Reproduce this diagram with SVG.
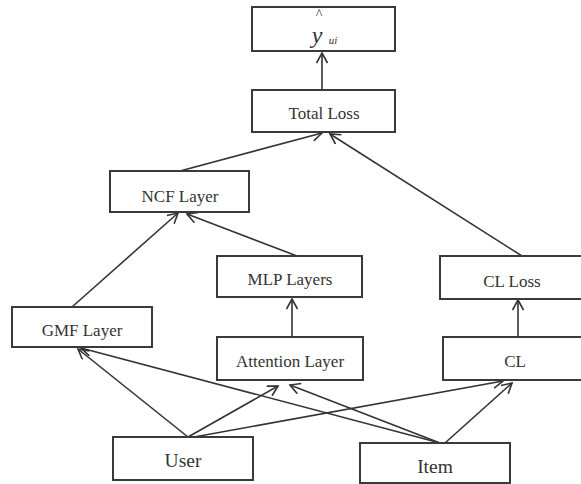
<svg xmlns="http://www.w3.org/2000/svg" width="581" height="484" viewBox="0 0 581 484">
  <defs>
    <marker id="arrow" markerUnits="userSpaceOnUse" markerWidth="14" markerHeight="14" refX="11" refY="6" orient="auto">
      <path d="M1,0.5 L11,6 L1,11.5" fill="none" stroke="#333" stroke-width="1.6"/>
    </marker>
  </defs>
  <style>
    .box { fill: #fff; stroke: #3a3a3a; stroke-width: 2; }
    .lbl { font-family: "Liberation Serif", "Times New Roman", serif; font-size: 17px; fill: #333; text-anchor: middle; }
    .big { font-size: 19.5px; }
    .edge { stroke: #333; stroke-width: 1.6; fill: none; marker-end: url(#arrow); }
  </style>
  <rect width="581" height="484" fill="#fff"/>

  <g id="connectors">
    <line class="edge" x1="322" y1="90" x2="322" y2="53"/>
    <line class="edge" x1="180" y1="171" x2="322" y2="133"/>
    <line class="edge" x1="522" y1="256" x2="330" y2="134"/>
    <line class="edge" x1="72" y1="307" x2="178" y2="213"/>
    <line class="edge" x1="297" y1="256" x2="187" y2="214"/>
    <line class="edge" x1="292" y1="337" x2="292" y2="299"/>
    <line class="edge" x1="518" y1="337" x2="518" y2="300"/>
    <line class="edge" x1="188" y1="437" x2="78" y2="349"/>
    <line class="edge" x1="188" y1="437" x2="278" y2="386"/>
    <line class="edge" x1="194" y1="437" x2="503" y2="381"/>
    <line class="edge" x1="440" y1="443" x2="81" y2="348"/>
    <line class="edge" x1="440" y1="443" x2="290" y2="385"/>
    <line class="edge" x1="445" y1="443" x2="512" y2="383"/>
  </g>

  <g id="y-hat">
    <rect class="box" x="252" y="7" width="143" height="44"/>
    <text class="lbl" x="319" y="18.5" style="font-size:14px">^</text>
    <text class="lbl" x="317" y="43" style="font-size:24px;font-style:italic">y</text>
    <text class="lbl" x="333" y="44" style="font-size:11px;font-style:italic">ui</text>
  </g>
  <g id="total-loss">
    <rect class="box" x="252" y="90" width="143" height="42"/>
    <text class="lbl" x="324" y="119">Total Loss</text>
  </g>
  <g id="ncf-layer">
    <rect class="box" x="110" y="171" width="139" height="41"/>
    <text class="lbl" x="180" y="202">NCF Layer</text>
  </g>
  <g id="mlp-layers">
    <rect class="box" x="217" y="256" width="145" height="41"/>
    <text class="lbl" x="290" y="285">MLP Layers</text>
  </g>
  <g id="cl-loss">
    <rect class="box" x="440" y="256" width="146" height="43"/>
    <text class="lbl" x="512" y="287">CL Loss</text>
  </g>
  <g id="gmf-layer">
    <rect class="box" x="12" y="307" width="140" height="40"/>
    <text class="lbl" x="82" y="336">GMF Layer</text>
  </g>
  <g id="attention-layer">
    <rect class="box" x="217" y="337" width="146" height="43"/>
    <text class="lbl" x="290" y="367">Attention Layer</text>
  </g>
  <g id="cl">
    <rect class="box" x="443" y="337" width="144" height="43"/>
    <text class="lbl" x="515" y="367">CL</text>
  </g>
  <g id="user">
    <rect class="box" x="113" y="437" width="140" height="43"/>
    <text class="lbl big" x="183" y="467">User</text>
  </g>
  <g id="item">
    <rect class="box" x="360" y="443" width="150" height="40"/>
    <text class="lbl big" x="435" y="473">Item</text>
  </g>
</svg>
